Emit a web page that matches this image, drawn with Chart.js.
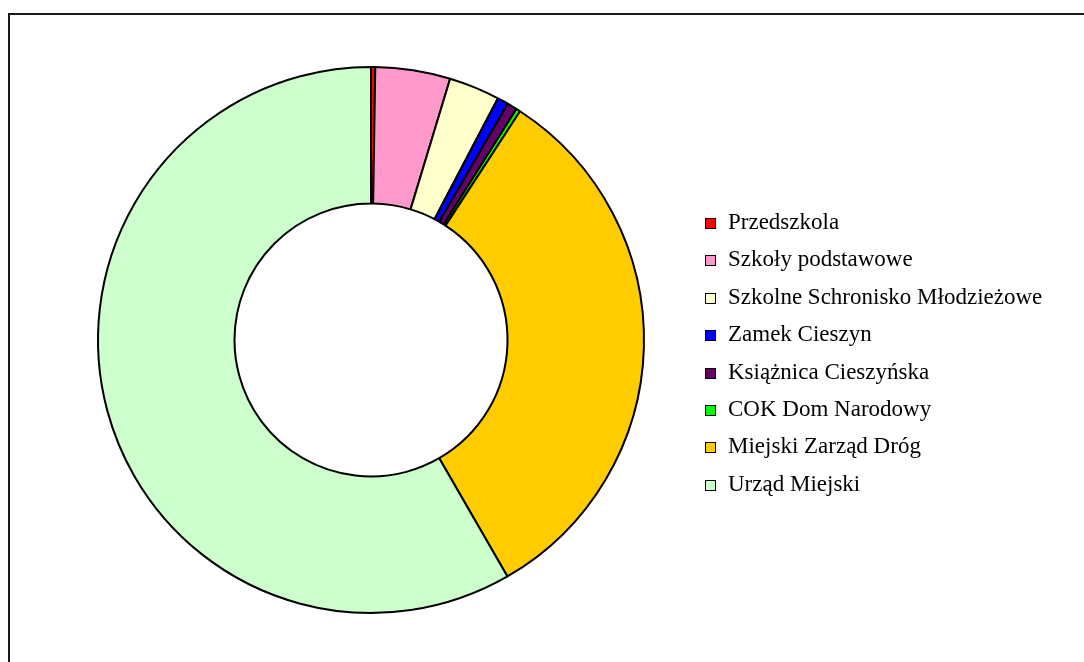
<!DOCTYPE html>
<html>
<head>
<meta charset="utf-8">
<script src="https://cdn.jsdelivr.net/npm/chart.js@4/dist/chart.umd.min.js"></script>
<style>
  body { margin: 0; background: #fff; width: 1084px; height: 662px; overflow: hidden; position: relative; }
  #frame { position: absolute; left: 8px; top: 13px; width: 1200px; height: 800px; border: 2px solid #1a1a1a; }
  #wrap { position: absolute; left: 0; top: 0; width: 1084px; height: 662px; }
  #legend { position: absolute; left: 705px; top: 203px; font-family: "Liberation Serif", "Times New Roman", serif; font-size: 23px; color: #000; }
  #legend div { height: 37.4px; line-height: 37.4px; white-space: nowrap; }
  #legend span.box { display: inline-block; width: 9px; height: 9px; border: 1px solid #000; margin-right: 12px; vertical-align: 0px; }
</style>
</head>
<body>
<div id="frame"></div>
<div id="wrap"><canvas id="donut"></canvas></div>
<div id="legend"></div>
<script>
const labels = ['Przedszkola', 'Szkoły podstawowe', 'Szkolne Schronisko Młodzieżowe', 'Zamek Cieszyn',
  'Książnica Cieszyńska', 'COK Dom Narodowy', 'Miejski Zarząd Dróg', 'Urząd Miejski'];
const shares = [0.25, 4.43, 3.02, 0.65, 0.59, 0.25, 32.48, 58.33];
const colors = ['#FF0000', '#FF99CC', '#FFFFCC', '#0000FF', '#660066', '#00FF00', '#FFCC00', '#CCFFCC'];

const ctx = document.getElementById('donut').getContext('2d');
new Chart(ctx, {
  type: 'doughnut',
  data: {
    labels: labels,
    datasets: [{
      data: shares,
      backgroundColor: colors,
      borderColor: '#000',
      borderWidth: 2
    }]
  },
  options: {
    responsive: true,
    maintainAspectRatio: false,
    animation: false,
    radius: 273,
    cutout: '50%',
    layout: { padding: { left: 0, right: 342, top: 18, bottom: 0 } },
    plugins: {
      legend: { display: false },
      tooltip: { enabled: false }
    }
  }
});

// legend built from the same arrays
const legendDiv = document.getElementById('legend');
labels.forEach((label, i) => {
  const row = document.createElement('div');
  row.innerHTML = `<span class="box" style="background:${colors[i]}"></span>${label}`;
  legendDiv.appendChild(row);
});
</script>
</body>
</html>
